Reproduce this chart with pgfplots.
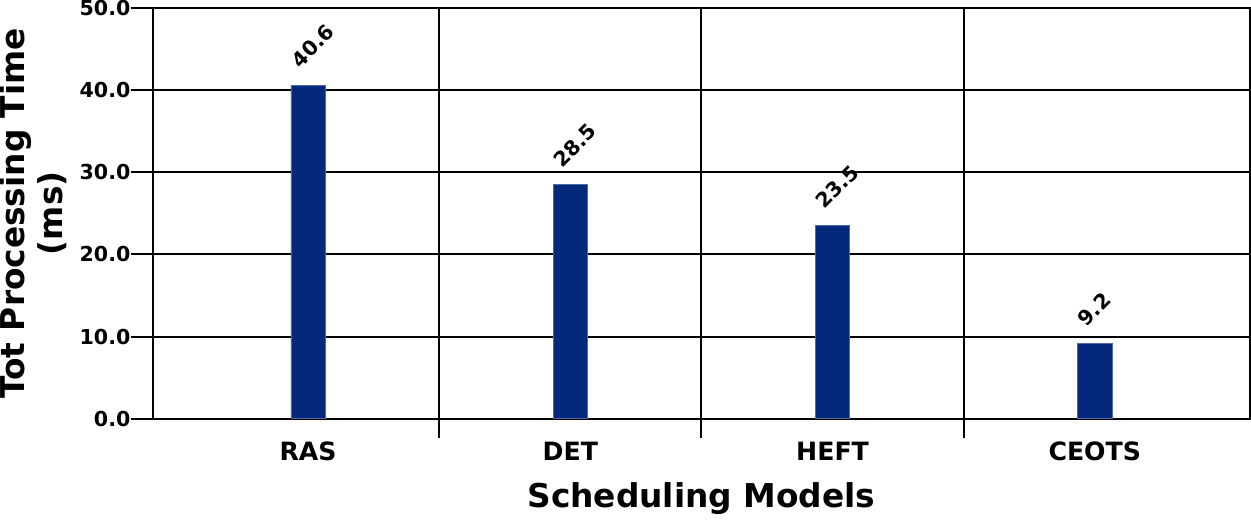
\documentclass[border=0pt]{standalone}
\usepackage{fontspec}
\setmainfont{DejaVu Sans}
\usepackage{pgfplots}
\pgfplotsset{compat=1.18}
\definecolor{barblue}{RGB}{4,41,122}
\begin{document}
\begin{tikzpicture}
\begin{axis}[
    scale only axis,
    width=548.5pt, height=205.5pt,
    ybar, bar width=0.131,
    xmin=-0.592, xmax=3.592,
    ymin=0, ymax=50,
    xtick={0,1,2,3},
    xticklabels={RAS,DET,HEFT,CEOTS},
    minor xtick={0.5,1.5,2.5},
    ytick={0,10,20,30,40,50},
    xtick pos=bottom, ytick pos=left,
    tick align=outside,
    major tick length=11pt,
    minor tick length=9.5pt,
    major x tick style={draw=none},
    xminorgrids, ymajorgrids,
    grid style={black, line width=1pt},
    minor grid style={black, line width=1pt},
    tick style={black, line width=1pt},
    axis line style={line width=1pt},
    /pgf/number format/fixed,
    /pgf/number format/fixed zerofill,
    /pgf/number format/precision=1,
    /pgf/number format/assume math mode=true,
    yticklabel style={font=\fontsize{10.3}{12}\selectfont\bfseries, inner sep=0pt},
    xticklabel style={font=\fontsize{12.6}{14}\selectfont\bfseries, yshift=3pt},
    xlabel={Scheduling Models},
    ylabel={Tot Processing Time\\(ms)},
    xlabel style={font=\fontsize{16.4}{19}\selectfont\bfseries},
    xlabel shift=4pt,
    ylabel style={font=\fontsize{16.4}{19}\selectfont\bfseries, align=center, inner sep=0pt},
    ylabel shift=6pt,
    nodes near coords,
    every node near coord/.append style={font=\fontsize{10.2}{12}\selectfont\bfseries,
        inner sep=0pt, xshift=-6.75pt, yshift=10.5pt, rotate=45, anchor=west},
]
\addplot[fill=barblue, draw=barblue!70!white, line width=0.4pt] coordinates {(0,40.6) (1,28.5) (2,23.5) (3,9.2)};
\end{axis}
\end{tikzpicture}
\end{document}
